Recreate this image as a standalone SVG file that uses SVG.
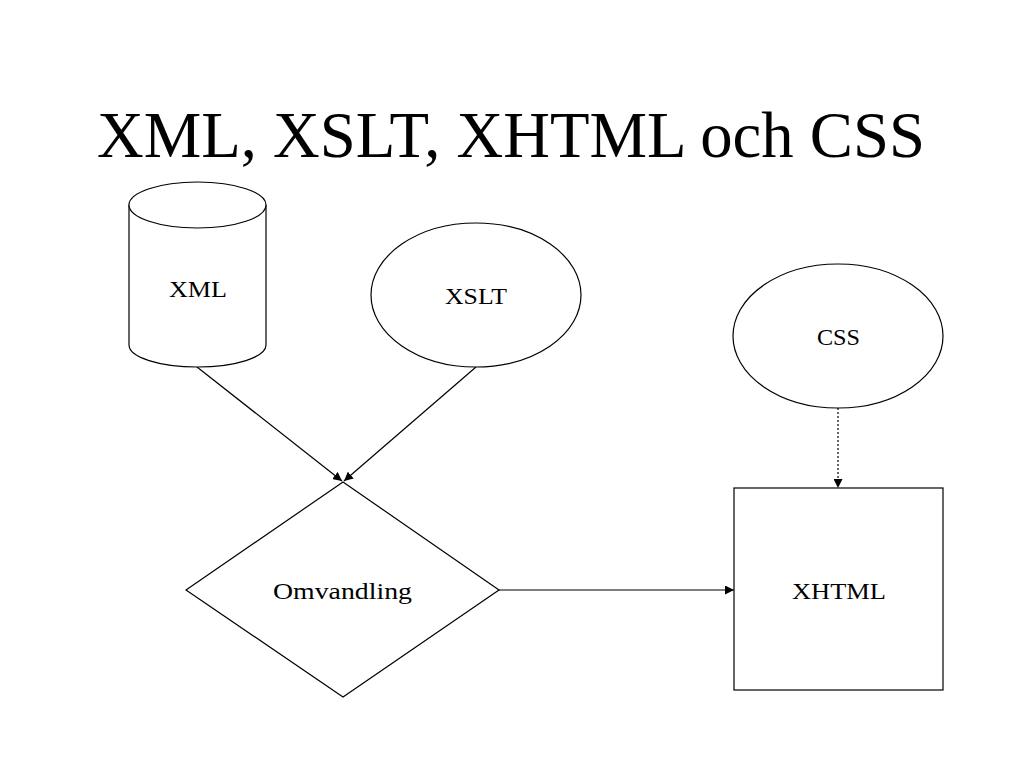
<svg xmlns="http://www.w3.org/2000/svg" width="1024" height="768" viewBox="0 0 1024 768">
<style>
.s{fill:#fff;stroke:#000;stroke-width:1.2}
.t{font-family:"Liberation Serif","DejaVu Serif",serif;font-size:24px;text-anchor:middle;fill:#000}
.c{stroke:#000;stroke-width:1.2;fill:none}
</style>
<defs>
<marker id="a" viewBox="0 0 10 10" refX="10" refY="5" markerWidth="9" markerHeight="9" markerUnits="userSpaceOnUse" orient="auto"><path d="M0,0L10,5L0,10z" fill="#000"/></marker>
</defs>
<rect width="1024" height="768" fill="#fff"/>
<text x="511" y="157" font-family="Liberation Serif,serif" font-size="66" text-anchor="middle" textLength="828" lengthAdjust="spacingAndGlyphs">XML, XSLT, XHTML och CSS</text>
<g id="connectors">
<line class="c" x1="197" y1="367" x2="342" y2="481" marker-end="url(#a)"/>
<line class="c" x1="476" y1="367" x2="344" y2="481" marker-end="url(#a)"/>
<line class="c" x1="838" y1="408" x2="838" y2="488" stroke-dasharray="2,2" marker-end="url(#a)"/>
<line class="c" x1="499" y1="590" x2="734" y2="590" marker-end="url(#a)"/>
</g>
<g id="xml">
<path class="s" d="M129,205 V345 A68.5,22 0 0 0 266,345 V205"/>
<ellipse class="s" cx="197.5" cy="205" rx="68.5" ry="23"/>
<text class="t" x="198" y="297" textLength="58" lengthAdjust="spacingAndGlyphs">XML</text>
</g>
<g id="xslt">
<ellipse class="s" cx="476" cy="295" rx="105" ry="72"/>
<text class="t" x="476" y="304" textLength="62" lengthAdjust="spacingAndGlyphs">XSLT</text>
</g>
<g id="css">
<ellipse class="s" cx="838" cy="336" rx="105" ry="72"/>
<text class="t" x="838.5" y="345" textLength="43" lengthAdjust="spacingAndGlyphs">CSS</text>
</g>
<g id="omvandling">
<polygon class="s" points="343,482 499,590 343,697 186,590"/>
<text class="t" x="342.5" y="599" textLength="139" lengthAdjust="spacingAndGlyphs">Omvandling</text>
</g>
<g id="xhtml">
<rect class="s" x="734" y="488" width="209" height="202"/>
<text class="t" x="839" y="599" textLength="94" lengthAdjust="spacingAndGlyphs">XHTML</text>
</g>
</svg>
